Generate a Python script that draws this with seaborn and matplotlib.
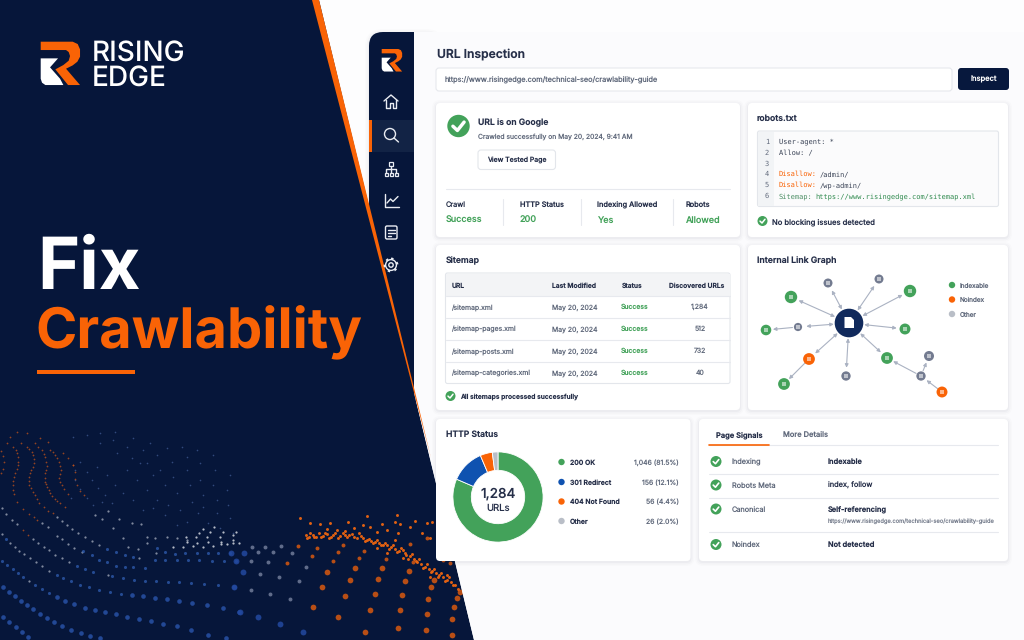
# ------------------------------------------------------------
# Rising Edge - "Fix Crawlability" dashboard banner
# ------------------------------------------------------------

import pandas as pd
import matplotlib
matplotlib.use("Agg")
import matplotlib.pyplot as plt
import seaborn as sns
from matplotlib.patches import Circle, FancyBboxPatch, Polygon, Rectangle

# ------------------------------------------------------------
# 1. Values
# ------------------------------------------------------------

STATUS_LABELS = ["200 OK", "301 Redirect", "404 Not Found", "Other"]
STATUS_COUNTS = [1046, 156, 56, 26]
STATUS_TEXT = ["1,046 (81.5%)", "156 (12.1%)", "56 (4.4%)", "26 (2.0%)"]

SITEMAP_URLS = ["/sitemap.xml", "/sitemap-pages.xml", "/sitemap-posts.xml", "/sitemap-categories.xml"]
SITEMAP_DATES = ["May 20, 2024"] * 4
SITEMAP_STATUS = ["Success"] * 4
SITEMAP_FOUND = ["1,284", "512", "732", "40"]

CRAWL_LABELS = ["Crawl", "HTTP Status", "Indexing Allowed", "Robots"]
CRAWL_VALUES = ["Success", "200", "Yes", "Allowed"]

SIGNAL_LABELS = ["Indexing", "Robots Meta", "Canonical", "Noindex"]
SIGNAL_VALUES = ["Indexable", "index, follow", "Self-referencing", "Not detected"]

# link graph nodes, in picture pixels
NODE_X = [828, 879, 791, 910, 798, 766, 905, 809, 784, 846, 887, 929, 921, 942]
NODE_Y = [283, 279, 297, 291, 327, 330, 329, 359, 384, 376, 358, 356, 376, 392]
NODE_KIND = ["Other", "Other", "Indexable", "Indexable", "Other", "Indexable", "Indexable",
             "Noindex", "Indexable", "Other", "Indexable", "Other", "Other", "Noindex"]
NODE_SIZE = [42, 42, 80, 80, 35, 58, 62, 72, 72, 45, 72, 52, 45, 62]
HUB_LINKS = [0, 1, 2, 3, 4, 6, 7, 9, 10]
SIDE_LINKS = [(4, 5), (7, 8), (12, 10), (12, 11), (13, 12)]

DOTS_BLUE_BIG = [
    (10, 560), (28, 576), (47, 592), (65, 607), (85, 622), (10, 471), (28, 485), (45, 498), (62, 512), (80, 525),
    (98, 538), (119, 551), (140, 564), (163, 576), (187, 589), (214, 600), (242, 610), (270, 618), (300, 625),
    (171, 500), (196, 513), (222, 523), (255, 533), (284, 540), (316, 547), (347, 552), (381, 560), (416, 566),
    (452, 573), (490, 582), (530, 589), (574, 601), (624, 614), (677, 625), (396, 495), (429, 499), (464, 504),
    (500, 508), (537, 513), (577, 519), (620, 525), (668, 534), (702, 471), (716, 546),
]
DOTS_BLUE_MID = [
    (7, 393), (22, 405), (38, 417), (54, 429), (70, 440), (105, 464), (125, 477), (147, 489), (17, 326), (170, 434),
    (190, 443), (214, 454), (239, 464), (268, 472), (296, 479), (330, 487), (363, 491), (230, 407), (254, 416),
    (280, 425), (337, 438), (368, 444), (401, 449), (434, 452), (468, 453), (503, 457), (538, 457), (573, 460),
    (613, 463), (655, 466), (276, 376), (298, 391), (321, 397), (347, 408), (374, 412), (400, 411), (434, 414),
    (465, 389), (495, 391), (530, 391), (563, 391), (597, 391), (635, 392), (672, 392), (708, 392), (250, 363),
    (321, 356), (347, 366), (374, 376), (400, 382), (470, 355), (495, 367), (525, 372), (555, 368), (590, 368),
    (625, 370), (655, 368), (690, 370),
]
DOTS_GRAY = [
    (5, 312), (31, 339), (44, 350), (57, 362), (71, 372), (89, 385), (108, 397), (127, 409), (147, 422), (86, 452),
    (5, 235), (18, 253), (35, 270), (50, 283), (100, 327), (115, 338), (132, 350), (148, 361), (165, 374), (186, 385),
    (208, 396), (125, 280), (143, 292), (170, 318), (186, 326), (205, 341), (222, 354), (245, 366), (325, 436),
    (416, 384), (172, 262), (187, 273), (201, 285), (216, 297), (235, 310), (256, 322), (276, 334), (298, 345),
    (285, 255), (305, 268), (323, 243), (340, 295), (358, 267), (370, 325), (395, 280), (424, 283), (440, 340),
    (465, 325), (500, 320), (530, 325), (560, 330), (468, 368), (442, 322), (415, 356), (385, 350),
]
DOTS_WHITE_LINE = [
    (520, 352), (550, 350), (580, 348), (610, 352), (640, 348), (662, 343), (682, 342), (700, 340), (716, 340),
    (560, 335), (557, 322), (590, 338), (588, 322), (597, 308), (610, 296), (625, 335), (622, 320), (630, 305),
    (642, 290), (662, 335), (660, 320), (668, 305), (698, 330), (700, 315), (708, 305),
]
DOTS_ORANGE_LINES = [
    (2, 62), (10, 78), (13, 95), (8, 118), (3, 130), (20, 38), (40, 50), (52, 70), (55, 95), (50, 118), (42, 142),
    (38, 165), (62, 38), (80, 50), (95, 65), (102, 88), (98, 110), (90, 130), (86, 152), (92, 175), (105, 195),
    (118, 218), (132, 232), (145, 242), (158, 250), (105, 40), (125, 60), (136, 82), (140, 108), (135, 130),
    (135, 155), (142, 172), (150, 190), (165, 208), (180, 220), (195, 230), (150, 60), (165, 75), (178, 95),
    (182, 120), (178, 145), (185, 165), (70, 238), (88, 252), (102, 262), (112, 271), (68, 300), (85, 315),
    (38, 180), (50, 215), (190, 70), (205, 85), (218, 105), (30, 20), (50, 5), (80, 8), (120, 25), (145, 35),
    (47, 60), (54, 82), (53, 106), (46, 130), (40, 153), (41, 192), (88, 58), (100, 76), (101, 99), (94, 120),
    (87, 141), (88, 164), (98, 185), (111, 207), (115, 50), (131, 71), (139, 95), (138, 119), (135, 143),
    (138, 163), (146, 181), (157, 199), (172, 214), (158, 67), (172, 85), (181, 107), (181, 133), (181, 155),
    (192, 178), (204, 193), (218, 106), (224, 127), (226, 147), (230, 165), (240, 182), (252, 195),
]
DOTS_FAINT = [
    (225, 120), (225, 150), (240, 178), (212, 205), (260, 125), (275, 150), (295, 175), (315, 195), (262, 205),
    (280, 225), (305, 215), (335, 220), (240, 95), (290, 110), (320, 135), (345, 165), (370, 190), (400, 210),
    (430, 240), (460, 235), (495, 255), (530, 285), (560, 275), (595, 250), (625, 280), (660, 295), (700, 310),
    (380, 120), (410, 150), (440, 180), (470, 210), (505, 225), (540, 240), (575, 215), (610, 230), (650, 250),
    (690, 265), (420, 100), (460, 135), (495, 165), (530, 190), (570, 165), (610, 195), (650, 210), (685, 225),
    (350, 70), (395, 85), (440, 100), (480, 120), (520, 140), (560, 120), (600, 150), (640, 165), (680, 180),
    (300, 40), (340, 30), (380, 50), (430, 60), (470, 75), (515, 95), (560, 80), (600, 100), (645, 120), (690, 135),
    (220, 20), (260, 15), (300, 10), (345, 5), (400, 25), (450, 40), (500, 55), (545, 50), (590, 60), (640, 75),
]
DOTS_RIGHT_ORANGE_BIG = [
    (345, 288), (250, 320), (323, 351), (421, 329), (510, 331), (591, 341), (666, 357), (503, 384), (589, 390),
    (666, 405), (405, 396), (434, 281), (516, 284), (595, 298), (671, 321), (361, 241), (445, 238), (525, 244),
    (602, 262), (680, 295), (292, 216), (375, 204), (456, 204), (536, 212), (612, 239), (690, 277), (275, 260),
]
DOTS_RIGHT_ORANGE_MID = [
    (170, 190), (246, 169), (310, 182), (388, 173), (468, 177), (550, 185), (262, 144), (323, 155), (403, 152),
    (204, 139), (338, 134), (540, 132), (590, 115), (632, 130), (660, 145), (640, 180), (660, 190),
]
DOTS_RIGHT_GRAY = [
    (181, 296), (119, 282), (62, 271), (207, 242), (147, 230), (90, 222), (229, 200), (113, 186), (63, 183),
    (186, 160), (130, 157), (85, 157), (105, 140), (152, 138), (65, 142),
]
DOTS_RIGHT_BLUE = [
    (220, 397), (150, 371), (85, 350), (30, 335), (12, 262), (40, 216), (18, 182), (43, 158), (3, 158),
]
DOTS_CREST = [
    (228, 105), (236, 112), (248, 104), (258, 110), (268, 100), (280, 108), (292, 102), (304, 110), (316, 100),
    (330, 108), (344, 104), (358, 106), (372, 110), (386, 100), (398, 115), (412, 120), (424, 122), (436, 125),
    (448, 128), (460, 134), (472, 136), (484, 142), (496, 148), (506, 152), (518, 150), (528, 165), (540, 168),
    (552, 178), (562, 186), (574, 192), (584, 200), (596, 208), (606, 212), (618, 218), (628, 224), (640, 232),
    (652, 240), (662, 246), (674, 256), (684, 268), (230, 115), (290, 88), (320, 90), (345, 92), (372, 84),
    (400, 76), (420, 80), (455, 72), (470, 90), (495, 65), (510, 72), (505, 100), (540, 80), (555, 62), (590, 70),
    (605, 65), (600, 115), (575, 100), (495, 120), (440, 145), (470, 160), (520, 175), (600, 230), (650, 225),
    (210, 55), (240, 70), (270, 72), (300, 70), (355, 65), (410, 48), (500, 45), (440, 95), (650, 130),
    (240, 100), (252, 112), (274, 112), (286, 98), (298, 114), (310, 104), (324, 114), (338, 100), (352, 112),
    (366, 102), (380, 114), (392, 108), (406, 122), (418, 116), (430, 130), (442, 120), (454, 136), (466, 128),
    (478, 146), (490, 134), (500, 156), (512, 144), (524, 158), (534, 176), (546, 162), (558, 184), (568, 176),
    (580, 204), (590, 192), (602, 216), (612, 206), (624, 230), (634, 218), (646, 244), (658, 232), (668, 256),
]

# ------------------------------------------------------------
# 2. Colours and drawing helpers
# ------------------------------------------------------------

NAVY = "#06163a"
ORANGE = "#f96306"
GREEN = "#43a25a"
BLUE = "#0f52b0"
GRAY = "#b9bec7"
INK = "#262f49"
MUTED = "#616a7c"
LINE = "#e7e9ee"
KIND_COLORS = {"Indexable": GREEN, "Noindex": ORANGE, "Other": "#737b90"}

sns.set_theme(style="white")
plt.rcParams["font.family"] = ["Inter", "DejaVu Sans"]
plt.rcParams["text.hinting"] = "no_hinting"
plt.rcParams["text.hinting_factor"] = 1

fig = plt.figure(figsize=(10.24, 6.4), dpi=100)
ax = fig.add_axes([0, 0, 1, 1])
ax.set_xlim(0, 1024)
ax.set_ylim(640, 0)
ax.axis("off")
fig.patch.set_facecolor(NAVY)


def write(x, y, text, px, color=INK, weight="normal", ha="left", va="center_baseline", family=None, z=8):
    kwargs = {"family": family} if family else {}
    return ax.text(x, y, text, fontsize=px * 0.72, color=color, fontweight=weight,
                   ha=ha, va=va, zorder=z, **kwargs)


def card(x0, y0, x1, y1, radius=4, face="white", edge="none", z=4, shadow=True):
    if shadow:
        for grow, alpha in [(4, 0.012), (2.5, 0.018), (1, 0.03)]:
            ax.add_patch(FancyBboxPatch((x0 - grow, y0 - grow + 1), x1 - x0 + 2 * grow, y1 - y0 + 2 * grow,
                                        boxstyle=f"round,pad=0,rounding_size={radius + grow}",
                                        fc="#1c2a4a", ec="none", alpha=alpha, zorder=z))
    ax.add_patch(FancyBboxPatch((x0, y0), x1 - x0, y1 - y0, boxstyle=f"round,pad=0,rounding_size={radius}",
                                fc=face, ec=edge, lw=0.8, zorder=z))


def check(x, y, r):
    ax.add_patch(Circle((x, y), r, fc=GREEN, ec="none", zorder=7))
    ax.plot([x - 0.5 * r, x - 0.1 * r, x + 0.5 * r], [y + 0.02 * r, y + 0.4 * r, y - 0.35 * r],
            color="white", lw=r * 0.22, solid_capstyle="round", solid_joinstyle="round", zorder=8)


def hline(x0, x1, y, color=LINE, lw=0.8):
    ax.plot([x0, x1], [y, y], color=color, lw=lw, zorder=6)


def vline(x, y0, y1, color=LINE, lw=0.8):
    ax.plot([x, x], [y0, y1], color=color, lw=lw, zorder=6)


def logo(x, y, scale, z=3):
    top = [(32, 35), (128, 35), (143, 42), (150, 58), (150, 80), (142, 95), (128, 106), (108, 116), (150, 165),
           (114, 165), (76, 118), (100, 105), (116, 92), (120, 78), (116, 66), (108, 60), (32, 60)]
    left = [(32, 85), (84, 85), (60, 112), (90, 146), (100, 165), (46, 165), (36, 158), (32, 146)]
    for shape, color in [(top, ORANGE), (left, "white")]:
        pts = [(x + (a - 32) * scale / 3, y + (b - 35) * scale / 3) for a, b in shape]
        ax.add_patch(Polygon(pts, closed=True, fc=color, ec="none", zorder=z))


def scatter_dots(points, x0, y0, size, color, alpha, z=1):
    frame = pd.DataFrame(points, columns=["x", "y"])
    frame["x"] = frame["x"] / 3 + x0
    frame["y"] = frame["y"] / 3 + y0
    sns.scatterplot(data=frame, x="x", y="y", s=size, color=color, alpha=alpha, linewidth=0,
                    legend=False, ax=ax, zorder=z)


# ------------------------------------------------------------
# 3. Left side: navy panel, dots, brand and headline
# ------------------------------------------------------------

ax.add_patch(Rectangle((0, 0), 1024, 640, fc=NAVY, ec="none", zorder=0))

scatter_dots(DOTS_FAINT, 0, 430, 1.4, "#5d7cc0", 0.5)
scatter_dots(DOTS_ORANGE_LINES, 0, 430, 1.6, "#c4531a", 0.75)
scatter_dots(DOTS_GRAY, 0, 430, 2.6, "#a9b0c0", 0.75)
scatter_dots(DOTS_BLUE_MID, 0, 430, 5, "#2f5cb0", 0.75)
scatter_dots(DOTS_BLUE_BIG, 0, 430, 11, "#2a55ad", 0.8)
scatter_dots(DOTS_WHITE_LINE, 0, 430, 2.6, "#c9ced8", 0.9)
scatter_dots(DOTS_RIGHT_ORANGE_BIG, 230, 500, 17, "#d8590f", 0.85)
scatter_dots(DOTS_RIGHT_ORANGE_MID, 230, 500, 8, "#d8590f", 0.85)
scatter_dots(DOTS_RIGHT_GRAY, 230, 500, 8, "#7f8aa6", 0.75)
scatter_dots(DOTS_RIGHT_BLUE, 230, 500, 18, "#2349a0", 0.85)
scatter_dots(DOTS_CREST, 230, 500, 4.5, "#ee6510", 0.95)

logo(40.7, 41.7, 1.0)
write(91.5, 60.5, "RISING", 28, "white", "medium", va="baseline")
write(91.5, 85.5, "EDGE", 28, "white", "medium", va="baseline")
write(37, 289, "Fix", 72, "white", "bold", va="baseline")
write(35, 348, "Crawlability", 56, ORANGE, "bold", va="baseline")
ax.add_patch(Rectangle((37, 369.5), 98, 4, fc=ORANGE, ec="none", zorder=3))

# ------------------------------------------------------------
# 4. Dashboard page and sidebar
# ------------------------------------------------------------

ax.add_patch(Polygon([(319, 0), (1024, 0), (1024, 640), (474, 640)], closed=True, fc="#fdfdfe", ec="none", zorder=2))
card(369, 32, 440, 400, radius=14, face=NAVY, z=2.2)
ax.add_patch(Polygon([(414, 32), (1024, 32), (1024, 640), (474, 640), (414, 393)], closed=True,
                     fc="#fbfbfd", ec="none", zorder=2.4))
ax.add_patch(Polygon([(312, 0), (319, 0), (417, 400), (431, 458)], closed=True, fc=ORANGE, ec="none", zorder=3))

ax.add_patch(Rectangle((369, 120), 45, 32, fc="#122345", ec="none", zorder=3))
ax.add_patch(Rectangle((369, 120), 2.6, 32, fc=ORANGE, ec="none", zorder=4))
logo(381.7, 49, 0.52, z=4)

icon = dict(color="#e9ecf2", lw=1.0, zorder=5, solid_joinstyle="round", solid_capstyle="round")
ax.plot([384, 391, 398], [101, 95, 101], **icon)
ax.plot([386, 386, 389.5, 389.5, 392.5, 392.5, 396, 396], [100, 108, 108, 103, 103, 108, 108, 100], **icon)
ax.add_patch(Circle((390, 134), 5.5, fc="none", ec="#e9ecf2", lw=1.0, zorder=5))
ax.plot([394, 398.5], [138, 142], **icon)
ax.add_patch(Rectangle((389, 162), 4, 3.5, fc="none", ec="#e9ecf2", lw=0.9, zorder=5))
for bx in [384.5, 389.5, 394.5]:
    ax.add_patch(Rectangle((bx, 172.5), 3.2, 3, fc="none", ec="#e9ecf2", lw=0.9, zorder=5))
ax.plot([391, 391], [165.5, 172.5], **icon)
ax.plot([386, 386, 396, 396], [172.5, 169, 169, 172.5], **icon)
ax.plot([384.5, 384.5, 398.5], [194, 207, 207], **icon)
ax.plot([387, 390.5, 393, 398], [203, 199, 201.5, 196.5], **icon)
ax.add_patch(FancyBboxPatch((385.5, 226), 11.5, 13, boxstyle="round,pad=0,rounding_size=1.5",
                            fc="none", ec="#e9ecf2", lw=1.0, zorder=5))
for ly, lx in [(229.5, 394.5), (232.5, 394.5), (235.5, 391)]:
    ax.plot([388, lx], [ly, ly], **icon)
ax.add_patch(Circle((391, 265), 5.4, fc="none", ec="#e9ecf2", lw=1.0, zorder=5))
ax.add_patch(Circle((391, 265), 6.3, fc="none", ec="#e9ecf2", lw=1.6, ls=(0, (1.1, 2.0)), zorder=5))
ax.add_patch(Circle((391, 265), 2.2, fc="none", ec="#e9ecf2", lw=1.0, zorder=5))

# ------------------------------------------------------------
# 5. URL bar and URL card
# ------------------------------------------------------------

write(437, 53, "URL Inspection", 12.1, INK, "semibold")
card(436, 68, 952, 91, radius=3, edge="#e6e8ed", shadow=False)
write(444.5, 79, "https://www.risingedge.com/technical-seo/crawlability-guide", 7.35, MUTED)
card(958, 68, 1009, 90, radius=3, face="#07183d", shadow=False)
write(983.5, 79, "Inspect", 7.5, "white", "medium", ha="center")

card(436, 103, 740, 237)
check(458.5, 126, 11.2)
write(478, 122, "URL is on Google", 8.6, INK, "semibold")
write(478, 135.5, "Crawled successfully on May 20, 2024, 9:41 AM", 6.75, MUTED)
card(478, 150, 555.5, 169.5, radius=3, edge="#e3e6eb", z=5, shadow=False)
write(516.7, 160, "View Tested Page", 6.9, INK, "medium", ha="center")
hline(446, 730, 188.5)
for x, label, value in zip([446, 520, 597, 686], CRAWL_LABELS, CRAWL_VALUES):
    write(x, 204.5, label, 7.35, INK, "medium" if label != "Crawl" else "normal")
    write(x, 219.5, value, 9, GREEN, "medium")
for x in [503, 581, 673]:
    vline(x, 199, 225)

# ------------------------------------------------------------
# 6. robots.txt card
# ------------------------------------------------------------

MONO = "DejaVu Sans Mono"
card(748, 103, 1008, 237)
write(757, 118, "robots.txt", 8.6, INK, "semibold")
card(757.5, 131, 998.5, 206.5, radius=2, face="#fbfbfc", edge="#e3e6eb", z=5, shadow=False)
ax.add_patch(Rectangle((758, 131.5), 16, 74.5, fc="#f2f4f6", ec="none", zorder=5.5))
code_rows = [141.3, 152.3, 163, 173.7, 184.7, 195.7]
for n, y in enumerate(code_rows, start=1):
    write(767, y, str(n), 6.6, MUTED, ha="center", family=MONO)
write(779, code_rows[0], "User-agent: *", 6.6, "#3a4356", family=MONO)
write(779, code_rows[1], "Allow: /", 6.6, "#3a4356", family=MONO)
write(779, code_rows[3], "Disallow:", 6.6, ORANGE, family=MONO)
write(819.3, code_rows[3], "/admin/", 6.6, "#3a4356", family=MONO)
write(779, code_rows[4], "Disallow:", 6.6, ORANGE, family=MONO)
write(819.3, code_rows[4], "/wp-admin/", 6.6, "#3a4356", family=MONO)
write(779, code_rows[5], "Sitemap:", 6.6, "#4d8f65", family=MONO)
write(815, code_rows[5], "https://www.risingedge.com/sitemap.xml", 6.6, "#2f8a4e", family=MONO)
check(762.5, 221, 5)
write(772, 221, "No blocking issues detected", 7.6, INK, "medium")

# ------------------------------------------------------------
# 7. Sitemap table
# ------------------------------------------------------------

card(436, 245, 740, 410)
write(446, 260, "Sitemap", 8.6, INK, "semibold")
card(445.5, 273, 730, 383.5, radius=2, edge="#e3e6eb", z=5, shadow=False)
ax.add_patch(Rectangle((446, 273.5), 283.5, 22, fc="#f3f4f6", ec="none", zorder=5.5))
for label, x in zip(["URL", "Last Modified", "Status", "Discovered URLs"], [451.5, 551.5, 621.5, 669]):
    write(x, 285, label, 6.7, INK, "semibold")
for y in [295.5, 317.5, 339.5, 361.5]:
    hline(446, 730, y)
for y, url, date, state, found in zip([306.5, 328.5, 350.5, 372.5], SITEMAP_URLS, SITEMAP_DATES,
                                      SITEMAP_STATUS, SITEMAP_FOUND):
    write(451.5, y, url, 6.9, MUTED)
    write(551.5, y, date, 6.9, MUTED)
    write(621, y, state, 6.8, GREEN, "medium")
    write(700, y, found, 6.9, MUTED, ha="center")
check(450.5, 396, 5)
write(460, 396, "All sitemaps processed successfully", 6.7, INK, "semibold")

# ------------------------------------------------------------
# 8. Internal link graph
# ------------------------------------------------------------

card(748, 245, 1008, 410)
write(757, 260, "Internal Link Graph", 8.7, INK, "semibold")

nodes = pd.DataFrame({"x": NODE_X, "y": NODE_Y, "kind": NODE_KIND, "size": NODE_SIZE})
hub = (849, 323)
arrow = dict(color="#aab2c2", lw=0.8, mutation_scale=5, shrinkA=11, shrinkB=6)
for i in HUB_LINKS:
    ax.annotate("", xy=(NODE_X[i], NODE_Y[i]), xytext=hub, zorder=6,
                arrowprops=dict(arrowstyle="<|-|>", **arrow))
for a, b in SIDE_LINKS:
    ax.annotate("", xy=(NODE_X[b], NODE_Y[b]), xytext=(NODE_X[a], NODE_Y[a]), zorder=6,
                arrowprops=dict(arrowstyle="-|>", color="#aab2c2", lw=0.8, mutation_scale=5, shrinkA=4, shrinkB=5))
sns.scatterplot(data=nodes, x="x", y="y", hue="kind", palette=KIND_COLORS, size="size", sizes=(35, 80),
                linewidth=0, legend=False, ax=ax, zorder=7)
sns.scatterplot(data=nodes, x="x", y="y", marker="s", s=6, color="white", alpha=0.55, linewidth=0,
                legend=False, ax=ax, zorder=7.5)
ax.add_patch(Circle(hub, 14.3, fc="#112a5c", ec="none", zorder=7))
ax.add_patch(Polygon([(844.5, 317), (851, 317), (854, 320), (854, 328), (844.5, 328)], closed=True,
                     fc="white", ec="none", zorder=8))
for y, label, color in zip([285, 299.5, 314], ["Indexable", "Noindex", "Other"], [GREEN, ORANGE, GRAY]):
    ax.add_patch(Circle((952, y), 3.2, fc=color, ec="none", zorder=7))
    write(960, y, label, 6.4, MUTED)

# ------------------------------------------------------------
# 9. HTTP status donut
# ------------------------------------------------------------

card(436, 419, 690.5, 561)
write(445.5, 434, "HTTP Status", 8.6, INK, "semibold")
donut_ax = fig.add_axes([(498 - 46) / 1024, 1 - (497 + 46) / 640, 92 / 1024, 92 / 640], zorder=5)
donut_ax.pie(STATUS_COUNTS, colors=[GREEN, BLUE, ORANGE, GRAY], startangle=90, counterclock=False, radius=0.98,
             wedgeprops=dict(width=0.40, edgecolor="white", linewidth=0.6))
donut_ax.set_xlim(-1, 1)
donut_ax.set_ylim(-1, 1)
donut_ax.set_aspect("equal")
donut_ax.patch.set_alpha(0)
donut_ax.text(0, 0.06, "1,284", ha="center", va="center", fontsize=13.5 * 0.72, color=INK, fontweight="medium")
donut_ax.text(0, -0.25, "URLs", ha="center", va="center", fontsize=9.5 * 0.72, color=INK)
for y, label, text, color in zip([462, 482, 501.5, 521], STATUS_LABELS, STATUS_TEXT, [GREEN, BLUE, ORANGE, GRAY]):
    ax.add_patch(Circle((561.5, y), 3.2, fc=color, ec="none", zorder=7))
    write(569.5, y, label, 6.85, INK, "semibold")
    write(679, y, text, 6.9, MUTED, ha="right")

# ------------------------------------------------------------
# 10. Page signals
# ------------------------------------------------------------

card(699, 419, 1008, 561)
write(715.5, 434, "Page Signals", 7.5, INK, "semibold")
write(783, 434, "More Details", 7.5, MUTED, "medium")
hline(708.5, 998, 445)
ax.plot([708.5, 769], [444.5, 444.5], color=ORANGE, lw=1.2, zorder=7)
signal_bold = ["semibold", "normal", "semibold", "semibold"]
for y, label, value, weight in zip([461.5, 485, 509, 544.5], SIGNAL_LABELS, SIGNAL_VALUES, signal_bold):
    check(716, y, 5.5)
    write(732, y, label, 7.3, MUTED)
    write(828, y, value, 7.4, INK, weight)
write(828, 520.5, "https://www.risingedge.com/technical-seo/crawlability-guide", 5.75, "#7a8190")
for y in [473.5, 497.5, 532]:
    hline(708.5, 998, y)

plt.savefig("out.png", dpi=100, facecolor=NAVY)
plt.close()
